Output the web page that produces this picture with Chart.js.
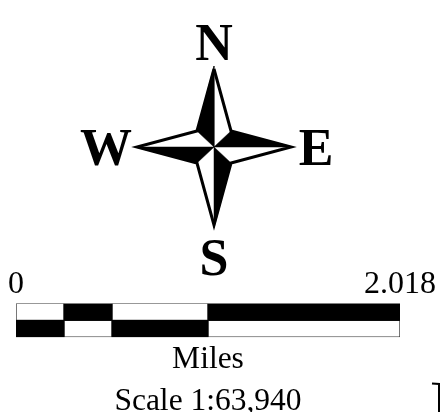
<!DOCTYPE html>
<html>
<head>
<meta charset="utf-8">
<script src="https://cdn.jsdelivr.net/npm/chart.js@4"></script>
<style>
html,body{margin:0;padding:0;background:#fff;overflow:hidden}
#wrap{position:relative;width:443px;height:412px;overflow:hidden}
canvas{position:absolute;left:0;top:0}
</style>
</head>
<body>
<div id="wrap">
<canvas id="compass_chart" width="443" height="412"></canvas>
<canvas id="scale_chart" width="443" height="423"></canvas>
</div>
<script>
// compass, units are measured from the centre of the star
const starX = [0, 17, 77, 17, 0, -17, -77, -17, 0];
const starY = [78, 16, 0, -16, -78, -16, 0, 16, 78];
const blackNX = [0, -17, 0, 0];
const blackNY = [0, 16, 81, 0];
const blackEX = [0, 17, 79, 0];
const blackEY = [0, 16, 0, 0];
const blackSX = [0, 17, 0, 0];
const blackSY = [0, -16, -81, 0];
const blackWX = [0, -17, -79, 0];
const blackWY = [0, -16, 0, 0];
const bracketX = [218, 225, 225];
const bracketY = [-236.5, -237, -265];
const letters = ['N', 'E', 'S', 'W'];
const lettersX = [0, 102, 0, -108];
const lettersY = [87, -18, -128, -18];

// scale bar, in miles
const rows = ['top', 'bottom'];
const topBlack = [[0.2523, 0.5045], [1.009, 2.018]];
const topWhite = [[0, 0.2523], [0.5045, 1.009]];
const bottomBlack = [[0, 0.2523], [0.5045, 1.009]];
const bottomWhite = [[0.2523, 0.5045], [1.009, 2.018]];
const tickLabels = [0, 2.018];
const axisTitle = ['Miles', 'Scale 1:63,940'];

function zip(xs, ys) {
  return xs.map((x, i) => ({x: x, y: ys[i]}));
}
function shape(xs, ys, fill, line, width) {
  return {
    data: zip(xs, ys),
    showLine: true,
    fill: 'shape',
    backgroundColor: fill,
    borderColor: line,
    borderWidth: width,
    borderJoinStyle: 'miter',
    pointRadius: 0,
    tension: 0,
  };
}
function segs(ranges, row) {
  return ranges.map(r => ({x: r, y: row}));
}

const letterPlugin = {
  id: 'letters',
  afterDatasetsDraw(chart) {
    const c = chart.ctx;
    c.save();
    c.fillStyle = '#000';
    c.font = 'bold 52px "Liberation Serif"';
    c.textAlign = 'center';
    c.textBaseline = 'alphabetic';
    letters.forEach((l, i) => {
      c.fillText(l, chart.scales.x.getPixelForValue(lettersX[i]), chart.scales.y.getPixelForValue(lettersY[i]));
    });
    c.restore();
  },
};

new Chart(document.querySelector('#compass_chart').getContext('2d'), {
  type: 'scatter',
  data: {
    datasets: [
      shape(blackNX, blackNY, '#000', '#000', 0.5),
      shape(blackEX, blackEY, '#000', '#000', 0.5),
      shape(blackSX, blackSY, '#000', '#000', 0.5),
      shape(blackWX, blackWY, '#000', '#000', 0.5),
      Object.assign(shape(bracketX, bracketY, 'transparent', '#000', 2), {fill: false}),
      shape(starX, starY, '#fff', '#000', 3),
    ],
  },
  options: {
    responsive: false,
    animation: false,
    plugins: {legend: {display: false}, tooltip: {enabled: false}},
    layout: {padding: 0},
    scales: {
      x: {display: false, min: -214, max: 229},
      y: {display: false, min: -265, max: 147},
    },
  },
  plugins: [letterPlugin],
});

function bars(data, color, line) {
  return {
    data: data,
    grouped: false,
    backgroundColor: color,
    borderColor: line,
    borderWidth: line === '#000' ? 0 : 1,
    borderSkipped: false,
    barPercentage: 1,
    categoryPercentage: 1,
  };
}

new Chart(document.querySelector('#scale_chart').getContext('2d'), {
  type: 'bar',
  data: {
    labels: rows,
    datasets: [
      bars(segs(topBlack, 'top'), '#000', '#000'),
      bars(segs(bottomBlack, 'bottom'), '#000', '#000'),
      bars(segs(topWhite, 'top'), '#fff', '#333'),
      bars(segs(bottomWhite, 'bottom'), '#fff', '#333'),
    ],
  },
  options: {
    indexAxis: 'y',
    responsive: false,
    animation: false,
    plugins: {legend: {display: false}, tooltip: {enabled: false}},
    layout: {padding: {left: 16, right: 43, top: 265, bottom: 0}},
    scales: {
      y: {display: false},
      x: {
        position: 'top',
        min: 0,
        max: 2.018,
        grid: {display: false, drawTicks: false},
        border: {display: false},
        afterBuildTicks(scale) {
          scale.ticks = tickLabels.map(v => ({value: v}));
        },
        afterFit(scale) {
          scale.paddingLeft = 0;
          scale.paddingRight = 0;
        },
        ticks: {
          color: '#000',
          padding: 0,
          maxRotation: 0,
          autoSkip: false,
          font: {family: 'Liberation Serif', size: 32},
          callback: v => String(v),
        },
      },
      x2: {
        position: 'bottom',
        min: 0,
        max: 2.018,
        grid: {display: false, drawTicks: false},
        border: {display: false},
        ticks: {display: false},
        afterFit(scale) {
          scale.paddingLeft = 0;
          scale.paddingRight = 0;
        },
        title: {
          display: true,
          text: axisTitle,
          color: '#000',
          padding: {top: 2, bottom: 0},
          font: {family: 'Liberation Serif', size: 31.5, lineHeight: 1.33},
        },
      },
    },
  },
});
</script>
</body>
</html>
